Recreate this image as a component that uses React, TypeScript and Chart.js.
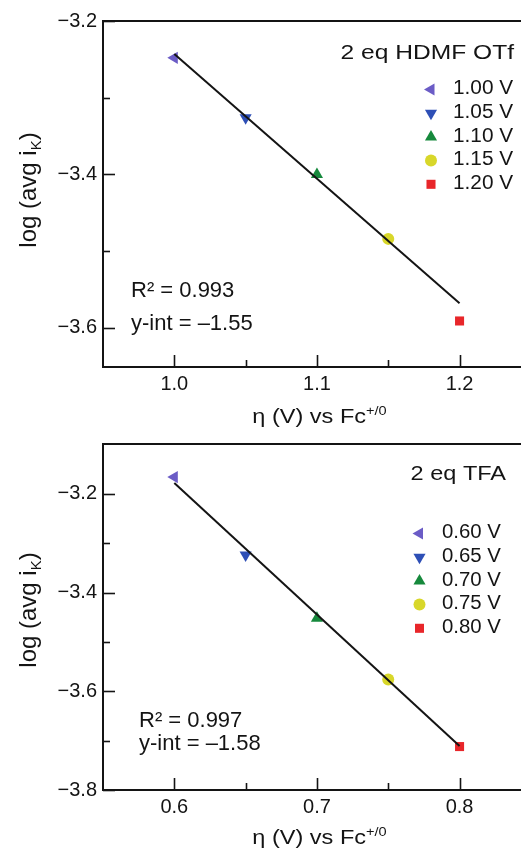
import React, { useEffect, useRef } from 'react';
import { Chart, registerables } from 'chart.js';
import { drawPoint } from 'chart.js/helpers';

Chart.register(...registerables);

const FONT = "'Liberation Sans', Arial, Helvetica, sans-serif";
const INK = '#141414';

// ---- top panel (2 eq HDMF OTf) ----
const hdmfTitle = '2 eq HDMF OTf';
const hdmfLegend = ['1.00 V', '1.05 V', '1.10 V', '1.15 V', '1.20 V'];
const hdmfEta = [1.0, 1.05, 1.1, 1.15, 1.2];
const hdmfLogI = [-3.248, -3.326, -3.4, -3.484, -3.591];
const hdmfFitEta = [1.0, 1.2];
const hdmfFitLogI = [-3.243, -3.568];
const hdmfStats = ['R² = 0.993', 'y-int = –1.55'];
const hdmfXTicks = [1.0, 1.05, 1.1, 1.15, 1.2];
const hdmfXTickLabels = ['1.0', '', '1.1', '', '1.2'];
const hdmfYTicks = [-3.6, -3.5, -3.4, -3.3, -3.2];
const hdmfYTickLabels = ['−3.6', '', '−3.4', '', '−3.2'];

// ---- bottom panel (2 eq TFA) ----
const tfaTitle = '2 eq TFA';
const tfaLegend = ['0.60 V', '0.65 V', '0.70 V', '0.75 V', '0.80 V'];
const tfaEta = [0.6, 0.65, 0.7, 0.75, 0.8];
const tfaLogI = [-3.166, -3.324, -3.452, -3.576, -3.712];
const tfaFitEta = [0.6, 0.8];
const tfaFitLogI = [-3.178, -3.711];
const tfaStats = ['R² = 0.997', 'y-int = –1.58'];
const tfaXTicks = [0.6, 0.65, 0.7, 0.75, 0.8];
const tfaXTickLabels = ['0.6', '', '0.7', '', '0.8'];
const tfaYTicks = [-3.8, -3.7, -3.6, -3.5, -3.4, -3.3, -3.2];
const tfaYTickLabels = ['−3.8', '', '−3.6', '', '−3.4', '', '−3.2'];

// ---- shared marker styles ----
const markerStyles = ['triangle', 'triangle', 'triangle', 'circle', 'rect'];
const markerRotations = [270, 180, 0, 0, 0];
const markerColors = ['#6b5cc6', '#2e4fb6', '#16893c', '#d8d72a', '#e8262a'];
const markerRadii = [7, 7, 7, 6, 6.4];

const xTitleMain = 'η (V) vs Fc';
const xTitleSup = '+/0';
const yTitleMain = 'log (avg i';
const yTitleSub = 'K';
const yTitleEnd = ')';

type Seg = { text: string; size: number; dy: number };

function drawRich(ctx: CanvasRenderingContext2D, segs: Seg[], x: number, y: number, align: 'left' | 'center' | 'right', sx: number, rot = 0) {
  ctx.save();
  ctx.translate(x, y);
  if (rot) ctx.rotate(rot);
  ctx.scale(sx, 1);
  ctx.fillStyle = INK;
  ctx.textBaseline = 'alphabetic';
  ctx.textAlign = 'left';
  let total = 0;
  const widths = segs.map((s) => {
    ctx.font = `${s.size}px ${FONT}`;
    const w = ctx.measureText(s.text).width;
    total += w;
    return w;
  });
  let cx = align === 'left' ? 0 : align === 'center' ? -total / 2 : -total;
  segs.forEach((s, i) => {
    ctx.font = `${s.size}px ${FONT}`;
    ctx.fillText(s.text, cx, s.dy);
    cx += widths[i];
  });
  ctx.restore();
}

type PanelCfg = {
  height: number;
  areaTop: number;
  xAxisH: number;
  xMin: number; xMax: number; yMin: number; yMax: number;
  eta: number[]; logI: number[]; fitEta: number[]; fitLogI: number[];
  legend: string[]; title: string; stats: string[];
  xTicks: number[]; xTickLabels: string[]; yTicks: number[]; yTickLabels: string[];
  titleRight: number; titleBase: number; titleSx: number;
  legMarkX: number; legTextX: number; legTop: number; legStep: number; legSx: number;
  statsX: number; statsBase: number[];
  xTitleCx: number; xTitleBase: number;
  yTitleX: number; yTitleCy: number;
};

function makeChart(canvas: HTMLCanvasElement, c: PanelCfg) {
  const decor = {
    id: 'decor',
    afterDraw(chart: any) {
      const ctx: CanvasRenderingContext2D = chart.ctx;
      const a = chart.chartArea;
      const xs = chart.scales.x;
      const ys = chart.scales.y;
      ctx.save();
      ctx.strokeStyle = INK;
      // top spine
      ctx.lineWidth = 2;
      ctx.beginPath();
      ctx.moveTo(a.left - 1, a.top);
      ctx.lineTo(a.right, a.top);
      ctx.stroke();
      // inward ticks
      ctx.lineWidth = 1.6;
      c.xTicks.forEach((v, i) => {
        const px = Math.round(xs.getPixelForValue(v)) + 0.5;
        const len = c.xTickLabels[i] ? 12 : 7;
        ctx.beginPath();
        ctx.moveTo(px, a.bottom);
        ctx.lineTo(px, a.bottom - len);
        ctx.stroke();
      });
      c.yTicks.forEach((v, i) => {
        const py = Math.round(ys.getPixelForValue(v)) + 0.5;
        const len = c.yTickLabels[i] ? 12 : 7;
        ctx.beginPath();
        ctx.moveTo(a.left, py);
        ctx.lineTo(a.left + len, py);
        ctx.stroke();
      });
      ctx.restore();

      // title
      drawRich(ctx, [{ text: c.title, size: 21, dy: 0 }], c.titleRight, c.titleBase, 'right', c.titleSx);
      // legend
      c.legend.forEach((lab, i) => {
        const cy = c.legTop + i * c.legStep;
        ctx.save();
        ctx.fillStyle = markerColors[i];
        ctx.strokeStyle = markerColors[i];
        drawPoint(ctx, { pointStyle: markerStyles[i], rotation: markerRotations[i], radius: markerRadii[i], borderWidth: 0 } as any, c.legMarkX, cy + 2.5);
        ctx.restore();
        drawRich(ctx, [{ text: lab, size: 20, dy: 0 }], c.legTextX, cy + 7.2, 'left', c.legSx);
      });
      // stats
      c.stats.forEach((s, i) => {
        drawRich(ctx, [{ text: s, size: 22, dy: 0 }], c.statsX, c.statsBase[i], 'left', 1);
      });
      // x title
      drawRich(ctx, [
        { text: xTitleMain, size: 21, dy: 0 },
        { text: xTitleSup, size: 13, dy: -8 },
      ], c.xTitleCx, c.xTitleBase, 'center', 1.12);
      // y title (rotated)
      drawRich(ctx, [
        { text: yTitleMain, size: 24, dy: 0 },
        { text: yTitleSub, size: 15, dy: 5 },
        { text: yTitleEnd, size: 24, dy: 0 },
      ], c.yTitleX, c.yTitleCy, 'center', 1.0, -Math.PI / 2);
    },
  };

  const datasets: any[] = [
    {
      type: 'line',
      data: c.fitEta.map((x, i) => ({ x, y: c.fitLogI[i] })),
      borderColor: INK,
      borderWidth: 2,
      pointRadius: 0,
      showLine: true,
      fill: false,
    },
    ...c.eta.map((x, i) => ({
      type: 'scatter',
      label: c.legend[i],
      data: [{ x, y: c.logI[i] }],
      pointStyle: markerStyles[i],
      rotation: markerRotations[i],
      pointRadius: markerRadii[i],
      pointBackgroundColor: markerColors[i],
      pointBorderColor: markerColors[i],
      pointBorderWidth: 0,
    })),
  ];

  return new Chart(canvas, {
    type: 'scatter',
    data: { datasets },
    options: {
      responsive: false,
      maintainAspectRatio: false,
      animation: false,
      devicePixelRatio: 1,
      layout: { padding: { top: c.areaTop, right: 7, left: 0, bottom: 0 } },
      plugins: { legend: { display: false }, tooltip: { enabled: false } },
      scales: {
        x: {
          type: 'linear',
          min: c.xMin,
          max: c.xMax,
          afterBuildTicks: (s: any) => { s.ticks = c.xTicks.map((v) => ({ value: v })); },
          afterFit: (s: any) => { s.height = c.xAxisH; s.paddingLeft = 0; s.paddingRight = 0; },
          ticks: {
            callback: (_v: any, i: number) => c.xTickLabels[i],
            font: { family: FONT, size: 20 },
            color: INK,
            padding: 5,
            maxRotation: 0,
            autoSkip: false,
          },
          grid: { display: false, drawTicks: false },
          border: { display: true, color: INK, width: 2 },
        },
        y: {
          type: 'linear',
          min: c.yMin,
          max: c.yMax,
          afterBuildTicks: (s: any) => { s.ticks = c.yTicks.map((v) => ({ value: v })); },
          afterFit: (s: any) => { s.width = 103; s.paddingTop = 0; s.paddingBottom = 0; },
          ticks: {
            callback: (_v: any, i: number) => c.yTickLabels[i],
            font: { family: FONT, size: 20 },
            color: INK,
            padding: 6,
            autoSkip: false,
          },
          grid: { display: false, drawTicks: false },
          border: { display: true, color: INK, width: 2 },
        },
      },
    },
    plugins: [decor],
  } as any);
}

const topCfg: PanelCfg = {
  height: 428, areaTop: 21, xAxisH: 61,
  xMin: 0.95, xMax: 1.255, yMin: -3.651, yMax: -3.2,
  eta: hdmfEta, logI: hdmfLogI, fitEta: hdmfFitEta, fitLogI: hdmfFitLogI,
  legend: hdmfLegend, title: hdmfTitle, stats: hdmfStats,
  xTicks: hdmfXTicks, xTickLabels: hdmfXTickLabels, yTicks: hdmfYTicks, yTickLabels: hdmfYTickLabels,
  titleRight: 514, titleBase: 58.5, titleSx: 1.17,
  legMarkX: 431, legTextX: 453, legTop: 87, legStep: 23.7, legSx: 1.04,
  statsX: 131, statsBase: [296.7, 330],
  xTitleCx: 319.5, xTitleBase: 422.5,
  yTitleX: 36, yTitleCy: 190,
};

const botCfg: PanelCfg = {
  height: 429, areaTop: 16, xAxisH: 67,
  xMin: 0.55, xMax: 0.855, yMin: -3.8, yMax: -3.099,
  eta: tfaEta, logI: tfaLogI, fitEta: tfaFitEta, fitLogI: tfaFitLogI,
  legend: tfaLegend, title: tfaTitle, stats: tfaStats,
  xTicks: tfaXTicks, xTickLabels: tfaXTickLabels, yTicks: tfaYTicks, yTickLabels: tfaYTickLabels,
  titleRight: 506, titleBase: 52, titleSx: 1.12,
  legMarkX: 419.5, legTextX: 442, legTop: 103, legStep: 23.7, legSx: 1.02,
  statsX: 139, statsBase: [298.7, 322],
  xTitleCx: 319.5, xTitleBase: 416,
  yTitleX: 36, yTitleCy: 182,
};

export default function App() {
  const topRef = useRef<HTMLCanvasElement>(null);
  const botRef = useRef<HTMLCanvasElement>(null);
  useEffect(() => {
    const a = makeChart(topRef.current!, topCfg);
    const b = makeChart(botRef.current!, botCfg);
    return () => { a.destroy(); b.destroy(); };
  }, []);
  return (
    <div style={{ position: 'absolute', left: 0, top: 0, width: 521, height: 857, overflow: 'hidden', background: '#fff' }}>
      <canvas ref={topRef} width={545} height={428} style={{ position: 'absolute', left: 0, top: 0, width: 545, height: 428 }} />
      <canvas ref={botRef} width={545} height={429} style={{ position: 'absolute', left: 0, top: 428, width: 545, height: 429 }} />
    </div>
  );
}
